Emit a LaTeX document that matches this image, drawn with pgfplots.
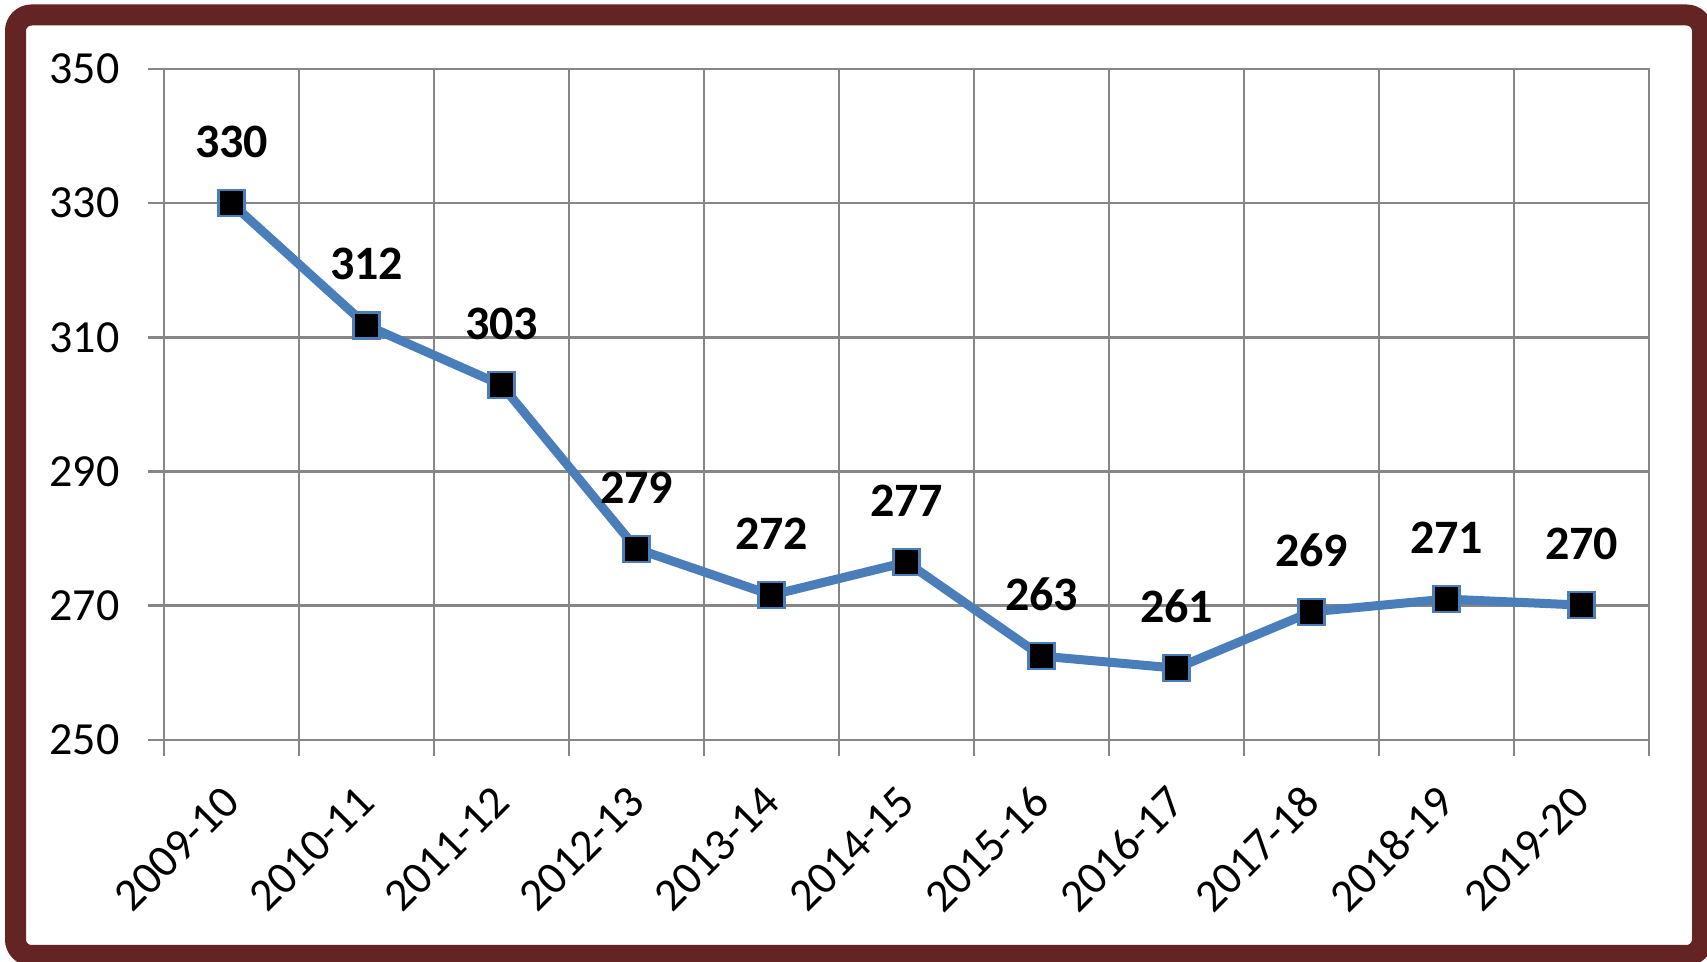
\documentclass[border=0pt]{standalone}
\usepackage{fontspec}
\setmainfont{Carlito}
\usepackage{pgfplots}
\pgfplotsset{compat=1.18}
\definecolor{framecol}{RGB}{99,36,35}
\definecolor{lineblue}{RGB}{74,126,187}
\definecolor{gridgray}{RGB}{134,134,134}
\pgfplotstableread{
x y lab
0 330.0 330
1 311.8 312
2 302.9 303
3 278.5 279
4 271.6 272
5 276.5 277
6 262.5 263
7 260.7 261
8 269.1 269
9 271.0 271
10 270.1 270
}\datatable
\begin{document}
\begin{tikzpicture}
\useasboundingbox (0,0) rectangle (853.5pt,481pt);
\fill[white] (0,0) rectangle (853.5pt,481pt);
\draw[framecol, line width=10.5pt, rounded corners=8pt] (7.75pt,3.25pt) rectangle (851.25pt,473.5pt);
\begin{axis}[
 at={(82pt,111pt)}, anchor=south west,
 scale only axis, width=742.5pt, height=335.5pt,
 xmin=-0.5, xmax=10.5, ymin=250, ymax=350,
 ytick={250,270,290,310,330,350},
 xtick={-0.5,0.5,...,10.5},
 xticklabels={},
 extra x ticks={0,1,...,10},
 extra x tick labels={2009-10,2010-11,2011-12,2012-13,2013-14,2014-15,2015-16,2016-17,2017-18,2018-19,2019-20},
 extra x tick style={grid=none, major tick length=0pt, tick style={draw=none},
   xticklabel style={yshift=-27pt, rotate=45, anchor=east, inner sep=0pt}},
 xmajorgrids, ymajorgrids,
 grid style={gridgray, line width=1.3pt},
 major grid style={gridgray, line width=1.3pt},
 axis line style={gridgray, line width=1.3pt},
 tick style={gridgray, line width=1.3pt},
 tick align=outside, xtick pos=bottom, ytick pos=left,
 major tick length=8pt,
 /pgf/number format/assume math mode=true,
 ticklabel style={font=\fontsize{23}{23}\selectfont, text=black},
 yticklabel style={anchor=east, inner sep=0pt, xshift=-14pt},
 clip=false,
]
\addplot[lineblue, line width=4.5pt, mark=square*,
  mark options={fill=black, draw=lineblue, line width=1.2pt, mark size=6.5pt},
  point meta=explicit symbolic,
  nodes near coords,
  nodes near coords style={font=\bfseries\fontsize{24}{24}\selectfont, text=black, anchor=south, inner sep=0pt, yshift=22pt}]
  table[x=x, y=y, meta=lab] {\datatable};
\end{axis}
\end{tikzpicture}
\end{document}
